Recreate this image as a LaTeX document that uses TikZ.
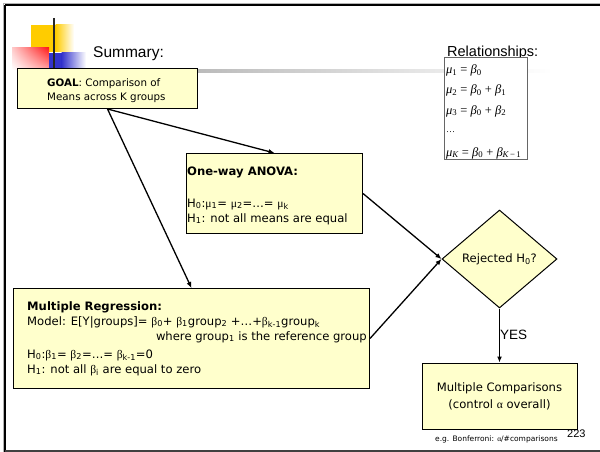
\documentclass[tikz,border=0pt]{standalone}
\usepackage{fontspec}
\setmainfont{DejaVu Sans}
\newfontfamily\arialfont{Liberation Sans}
\newfontfamily\grkfont{Liberation Serif}
\usetikzlibrary{shapes.geometric,arrows.meta,shadings}
\definecolor{notefill}{HTML}{FFFFCC}
\definecolor{deco yellow}{HTML}{FFCC00}
\definecolor{deco red}{HTML}{FF1A1A}
\definecolor{deco blue}{HTML}{3333CC}
\newcommand\gk[1]{{\grkfont #1}}
\newcommand\sub[1]{\textsubscript{#1}}
% italic serif symbol with an upright subscript
\newcommand\ivar[2]{{\itshape #1}\textsubscript{#2}}
\tikzset{
  notebox/.style={draw=black, line width=1pt, fill=notefill, inner sep=0pt},
  bodytext/.style={anchor=base west, inner sep=0pt, font=\fontsize{11.6}{14}\selectfont},
  smalltext/.style={anchor=base west, inner sep=0pt, font=\fontsize{10.3}{12}\selectfont},
  eqtext/.style={anchor=base west, inner sep=0pt, font=\grkfont\fontsize{12.5}{14}\selectfont},
  sanstitle/.style={anchor=base west, inner sep=0pt},
  conn/.style={line width=1.3pt, -{Latex[length=6pt,width=5pt]}}
}
\begin{document}
\begin{tikzpicture}[x=1pt, y=-1pt]
\useasboundingbox (0,0) rectangle (600,452);

% slide frame
\draw[gray!60, line width=0.8pt] (3,3) -- (600,3);
\draw[black, line width=2pt] (5,5) -- (600,5);
\draw[gray!60, line width=0.8pt] (3,3) -- (3,452);
\draw[black, line width=2pt] (5,5) -- (5,452);
\draw[black!75, line width=1.2pt] (5,451) -- (600,451);

% title decoration
\fill[deco yellow] (31,25) rectangle (56,52);
\shade[left color=deco yellow, right color=white] (55.5,25) rectangle (74,52);
\shade[upper right=deco red, upper left=red!20, lower right=red!35, lower left=white] (12,48) rectangle (49,70);
\fill[deco blue] (49,53) rectangle (62,70);
\shade[left color=deco blue, right color=white] (61.5,53) rectangle (86,70);
\draw[black!85, line width=2.2pt] (54,18) -- (54,70);
\shade[left color=gray!75, right color=white] (54,69.5) rectangle (552,72.5);

\node[sanstitle, font=\arialfont\fontsize{15.5}{18}\selectfont] (title) at (93,58) {Summary:};

% goal
\node[notebox, minimum width=180pt, minimum height=40pt, anchor=north west] (goal) at (17,68) {};
\node[smalltext] (goal1) at (47,86) {\textbf{GOAL}: Comparison of};
\node[smalltext] (goal2) at (47,100) {Means across K groups};

% relationships
\node[sanstitle, font=\arialfont\fontsize{14.5}{17}\selectfont] (reltitle) at (447,57) {Relationships:};
\node[draw=black!60, line width=0.9pt, fill=white, inner sep=0pt, minimum width=83pt, minimum height=102pt, anchor=north west] (rel) at (444,57) {};
\node[eqtext] (eq1) at (446,74) {\ivar{μ}{1} = \ivar{β}{0}};
\node[eqtext] (eq2) at (446,94) {\ivar{μ}{2} = \ivar{β}{0} + \ivar{β}{1}};
\node[eqtext] (eq3) at (446,114) {\ivar{μ}{3} = \ivar{β}{0} + \ivar{β}{2}};
\node[eqtext, font=\grkfont\fontsize{9}{10}\selectfont] (eq4) at (446,132) {…};
\node[eqtext] (eq5) at (446,156) {\ivar{μ}{\itshape K} = \ivar{β}{0} + \ivar{β}{{\itshape K}\,−\,1}};

% one-way anova
\node[notebox, minimum width=176pt, minimum height=80pt, anchor=north west] (anova) at (186,153) {};
\node[bodytext] (anova1) at (187,175) {\textbf{One-way ANOVA:}};
\node[bodytext] (anova2) at (187,207) {H\sub{0}:\gk{μ}\sub{1}= \gk{μ}\sub{2}=…= \gk{μ}\sub{k}};
\node[bodytext] (anova3) at (187,222) {H\sub{1}: not all means are equal};

% multiple regression
\node[notebox, minimum width=356pt, minimum height=100pt, anchor=north west] (reg) at (13,288) {};
\node[bodytext] (reg1) at (27,310) {\textbf{Multiple Regression:}};
\node[bodytext] (reg2) at (27,325) {Model: E[Y|groups]= \gk{β}\sub{0}+ \gk{β}\sub{1}group\sub{2} +…+\gk{β}\sub{k-1}group\sub{k}};
\node[bodytext, anchor=base east] (reg3) at (367,340) {where group\sub{1} is the reference group};
\node[bodytext] (reg4) at (27,358) {H\sub{0}:\gk{β}\sub{1}= \gk{β}\sub{2}=…= \gk{β}\sub{k-1}=0};
\node[bodytext] (reg5) at (27,373) {H\sub{1}: not all \gk{β}\sub{i} are equal to zero};

% decision
\node[diamond, notebox, minimum width=115pt, minimum height=98pt,
      font=\fontsize{11.6}{14}\selectfont] (rej) at (499.5,259) {Rejected H\sub{0}?};

% multiple comparisons
\node[notebox, minimum width=155pt, minimum height=66pt, align=center,
      font=\fontsize{11.6}{17}\selectfont] (mc) at (499.5,396)
      {Multiple Comparisons\\(control \gk{α} overall)};

% connectors
\draw[conn] (goal.south) -- (anova.north);
\draw[conn] (goal.south) -- (reg.north);
\draw[conn] (anova.east) -- (rej.west);
\draw[conn] (reg.east) -- (rej.west);
\draw[conn] (rej.south) -- (mc.north);
\node[sanstitle, font=\arialfont\fontsize{13.5}{16}\selectfont] (yes) at (500,339) {YES};

% footer
\node[sanstitle, font=\fontsize{7.5}{9}\selectfont] (note) at (435,441) {e.g. Bonferroni: \gk{α}/\#comparisons};
\node[sanstitle, font=\arialfont\fontsize{11}{13}\selectfont] (pagenum) at (567,437) {223};
\end{tikzpicture}
\end{document}
